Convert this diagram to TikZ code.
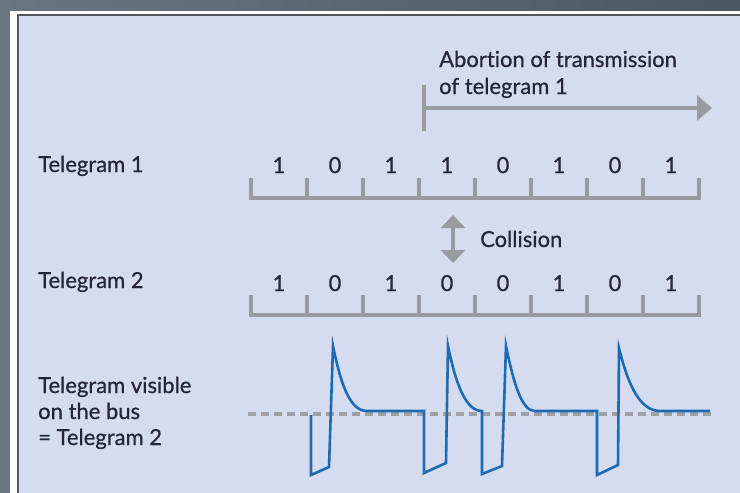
\documentclass[tikz,border=0pt]{standalone}
\usepackage{fontspec}
\setmainfont{Lato}[Ligatures=NoCommon]
\newfontfamily\lblfont{Lato}[Ligatures=NoCommon,FakeBold=0.6]
\usetikzlibrary{arrows.meta}
\definecolor{panelc}{HTML}{D5DCEF}
\definecolor{bgl}{HTML}{697680}
\definecolor{bgr}{HTML}{4B5761}
\definecolor{framec}{HTML}{555659}
\definecolor{textc}{HTML}{25253A}
\definecolor{rulec}{HTML}{989CA1}
\definecolor{wavec}{HTML}{1E6BB4}
\definecolor{dashc}{HTML}{9FA1A4}
\tikzset{
  lbl/.style={anchor=base west, inner sep=0pt, text=textc, font=\lblfont\fontsize{22}{26}\selectfont},
  bit/.style={anchor=base, inner sep=0pt, text=textc, font=\lblfont\fontsize{22}{26}\selectfont},
  rulerline/.style={draw=rulec, line width=3.5pt},
  grayarrow/.style={draw=rulec, line width=3.5pt},
  wave/.style={draw=wavec, line width=2.6pt, line join=miter},
  baseline/.style={draw=dashc, line width=3.5pt, dash pattern=on 8pt off 5pt}
}
\begin{document}
\begin{tikzpicture}[x=1pt,y=-1pt]
\useasboundingbox (0,0) rectangle (740,493);
% outer background
\shade[left color=bgl, right color=bgr] (0,0) rectangle (740,493);
\fill[white] (10,11) rectangle (740,493);
\fill[panelc] (17,14) rectangle (740,493);
\draw[framec, line width=2pt] (18,493) -- (18,15) -- (740,15);

% left labels
\node[lbl] (t1) at (38,172) {Telegram 1};
\node[lbl] (t2) at (38,288) {Telegram 2};
\node[lbl] (tv1) at (38,393) {Telegram visible};
\node[lbl] (tv2) at (38,419) {on the bus};
\node[lbl] (tv3) at (38,445) {= Telegram 2};

% abort text and arrow
\node[lbl] (ab1) at (439,67) {Abortion of transmission};
\node[lbl] (ab2) at (439,94) {of telegram 1};
\coordinate (abt) at (424,85);
\coordinate (abb) at (424,131);
\coordinate (abs) at (424,108);
\coordinate (abe) at (712,108);
\draw[grayarrow] (abt) -- (abb);
\draw[grayarrow, -{Triangle[width=25pt,length=15pt]}] (abs) -- (abe);

% rulers
\foreach \y in {198,315} {
  \draw[rulerline] (251,\y-20) -- (251,\y) -- (699,\y) -- (699,\y-20);
  \foreach \i in {1,...,7} {
    \draw[rulerline] (251+56*\i,\y-20) -- (251+56*\i,\y);
  }
}
% bits
\foreach \b [count=\i from 0] in {1,0,1,1,0,1,0,1} {
  \node[bit] (a\i) at (279+56*\i,173) {\b};
}
\foreach \b [count=\i from 0] in {1,0,1,0,0,1,0,1} {
  \node[bit] (c\i) at (279+56*\i,291) {\b};
}

% collision
\coordinate (colt) at (453,215);
\coordinate (colb) at (453,263);
\draw[grayarrow, line width=4pt, {Triangle[width=24pt,length=13pt]}-{Triangle[width=24pt,length=13pt]}] (colt) -- (colb);
\node[lbl] (col) at (480,247) {Collision};

% bus signal
\draw[baseline] (248,414) -- (713,414);
\draw[wave] (311,415) -- (311,475) -- (329,467) -- (333,346)
  .. controls (341,385) and (350,411) .. (367,411) -- (424,411) -- (424,473) -- (446,463) -- (448,346)
  .. controls (456,385) and (466,411) .. (482,411) -- (482,474) -- (502,466) -- (506,346)
  .. controls (514,385) and (522,411) .. (535,411) -- (597,411) -- (597,475) -- (618,465) -- (619,348)
  .. controls (628,385) and (640,411) .. (660,411) -- (710,411);
\end{tikzpicture}
\end{document}
